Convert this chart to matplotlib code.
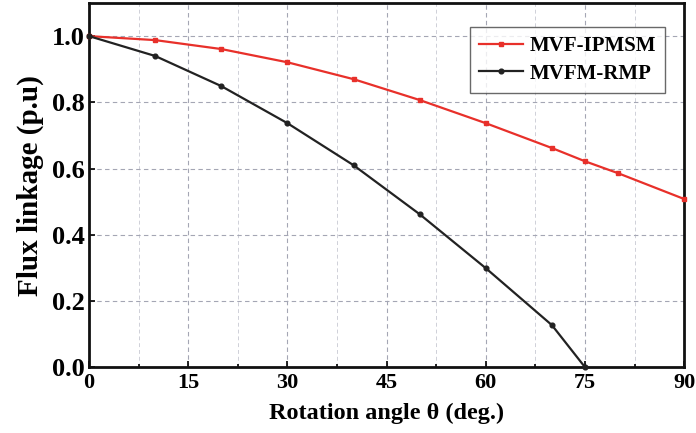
import numpy as np
import matplotlib
matplotlib.use("Agg")
from matplotlib import pyplot as plt
from matplotlib.ticker import MultipleLocator, FormatStrFormatter

plt.rcParams['font.family'] = ['Liberation Serif', 'DejaVu Serif']
plt.rcParams['font.weight'] = 'bold'

# MVF-IPMSM
ang_a = [0, 10, 20, 30, 40, 50, 60, 70, 75, 80, 90]
flux_a = [1.0, 0.988, 0.961, 0.921, 0.870, 0.807, 0.737, 0.662, 0.622, 0.586, 0.508]
# MVFM-RMP
ang_b = [0, 10, 20, 30, 40, 50, 60, 70, 75]
flux_b = [1.0, 0.940, 0.849, 0.737, 0.610, 0.462, 0.299, 0.127, 0.0]

fig = plt.figure(figsize=(6.96, 4.33), dpi=100)
ax = fig.add_axes([0.128, 0.152, 0.855, 0.841])

ax.plot(ang_a, flux_a, color='#e8302a', lw=1.6, marker='s', ms=3.2, label='MVF-IPMSM', clip_on=False, zorder=3)
ax.plot(ang_b, flux_b, color='#222222', lw=1.6, marker='o', ms=3.4, label='MVFM-RMP', clip_on=False, zorder=3)

ax.set_xlim(0, 90)
ax.set_ylim(0, 1.1)
ax.xaxis.set_major_locator(MultipleLocator(15))
ax.xaxis.set_minor_locator(MultipleLocator(7.5))
ax.set_yticks([0.0, 0.2, 0.4, 0.6, 0.8, 1.0])
ax.yaxis.set_major_formatter(FormatStrFormatter('%.1f'))

ax.grid(which='major', axis='both', color='#a4a6b4', ls=(0, (4, 3)), lw=0.8)
ax.grid(which='minor', axis='x', color='#cfd0d8', ls=(0, (4, 3)), lw=0.7)

ax.tick_params(which='both', direction='in', width=1.2)
ax.tick_params(which='major', length=4)
ax.tick_params(which='minor', length=2.5)
ax.tick_params(axis='x', labelsize=16, pad=4)
ax.tick_params(axis='y', labelsize=19, pad=3)
for s in ax.spines.values():
    s.set_linewidth(2)
    s.set_color('#111111')

ax.set_xlabel('Rotation angle θ (deg.)', fontsize=17.5, fontweight='bold', labelpad=7)
ax.set_ylabel('Flux linkage (p.u)', fontsize=21, fontweight='bold', labelpad=6)

leg = ax.legend(loc='upper right', bbox_to_anchor=(0.968, 0.934), borderaxespad=0,
                fontsize=15, frameon=True, fancybox=False, edgecolor='#444444',
                handlelength=2.1, borderpad=0.45, labelspacing=0.35, handletextpad=0.3)
leg.get_frame().set_linewidth(1.0)

fig.savefig('out.png', dpi=100)
